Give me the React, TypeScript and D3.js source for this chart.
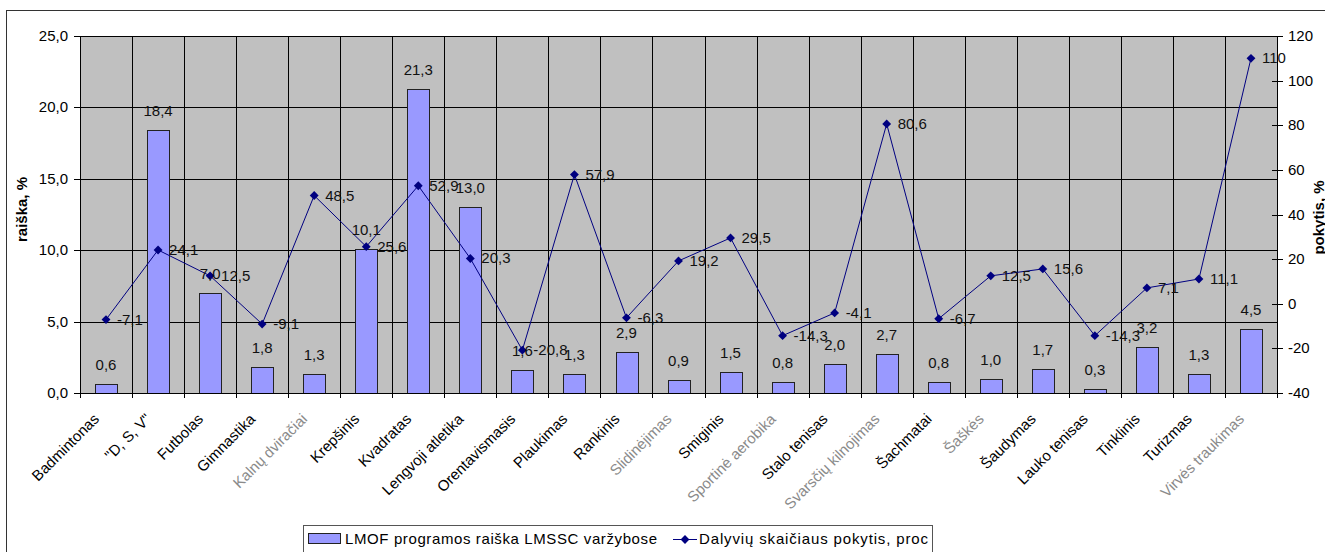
import React, { useEffect, useRef } from 'react';
import * as d3 from 'd3';

const categories = [
  'Badmintonas', '"D, S, V"', 'Futbolas', 'Gimnastika', 'Kalnų dviračiai', 'Krepšinis',
  'Kvadratas', 'Lengvoji atletika', 'Orentavismasis', 'Plaukimas', 'Rankinis', 'Slidinėjimas',
  'Smiginis', 'Sportinė aerobika', 'Stalo tenisas', 'Svarsčių kilnojimas', 'Šachmatai', 'Šaškės',
  'Šaudymas', 'Lauko tenisas', 'Tinklinis', 'Turizmas', 'Virvės traukimas',
];
// labels that look washed out in the picture
const faded = ['Kalnų dviračiai', 'Slidinėjimas', 'Sportinė aerobika', 'Svarsčių kilnojimas', 'Šaškės', 'Virvės traukimas'];

const raiska = [0.6, 18.4, 7.0, 1.8, 1.3, 10.1, 21.3, 13.0, 1.6, 1.3, 2.9, 0.9, 1.5, 0.8, 2.0, 2.7, 0.8, 1.0, 1.7, 0.3, 3.2, 1.3, 4.5];
const pokytis = [-7.1, 24.1, 12.5, -9.1, 48.5, 25.6, 52.9, 20.3, -20.8, 57.9, -6.3, 19.2, 29.5, -14.3, -4.1, 80.6, -6.7, 12.5, 15.6, -14.3, 7.1, 11.1, 110];

const leftTicks = [0, 5, 10, 15, 20, 25];
const rightTicks = [-40, -20, 0, 20, 40, 60, 80, 100, 120];

const barName = 'LMOF programos raiška LMSSC varžybose';
const lineName = 'Dalyvių skaičiaus pokytis, proc';

const FONT = 'Arial, "Liberation Sans", sans-serif';

const App = () => {
  const ref = useRef(null);

  useEffect(() => {
    const svg = d3.select(ref.current);
    svg.selectAll('*').remove();

    const left = 80, right = 1277, top = 36, bottom = 393;

    const x = d3.scaleBand().domain(categories).range([left, right]);
    const yL = d3.scaleLinear().domain([0, 25]).range([bottom, top]);
    const yR = d3.scaleLinear().domain([-40, 120]).range([bottom, top]);
    const comma = (s) => s.replace('.', ',');
    const fmtBar = (v) => comma(d3.format('.1f')(v));
    const fmtLine = (v) => comma(String(v));

    // outer frame
    svg.append('rect')
      .attr('x', 6.5).attr('y', 10.5)
      .attr('width', 1330).attr('height', 560)
      .attr('fill', 'white').attr('stroke', '#333');

    // plot area
    svg.append('rect')
      .attr('x', left).attr('y', top)
      .attr('width', right - left).attr('height', bottom - top)
      .attr('fill', '#C0C0C0');

    // horizontal grid
    svg.append('g').selectAll('line')
      .data(leftTicks.slice(1))
      .enter().append('line')
      .attr('x1', left).attr('x2', right)
      .attr('y1', d => Math.round(yL(d)) + 0.5).attr('y2', d => Math.round(yL(d)) + 0.5)
      .attr('stroke', '#000');

    // vertical grid + x ticks
    const bounds = categories.map((c) => x(c)).concat([right]);
    svg.append('g').selectAll('line')
      .data(bounds.slice(1, -1))
      .enter().append('line')
      .attr('x1', d => Math.round(d) + 0.5).attr('x2', d => Math.round(d) + 0.5)
      .attr('y1', top).attr('y2', bottom + 5)
      .attr('stroke', '#000');

    // bars
    const bw = x.bandwidth() * 0.42;
    svg.append('g').selectAll('rect')
      .data(raiska)
      .enter().append('rect')
      .attr('x', (d, i) => Math.round(x(categories[i]) + x.bandwidth() / 2 - bw / 2) + 0.5)
      .attr('y', d => Math.round(yL(d)) + 0.5)
      .attr('width', Math.round(bw))
      .attr('height', d => bottom - Math.round(yL(d)))
      .attr('fill', '#9999FF')
      .attr('stroke', '#222');

    // axes lines
    svg.append('line').attr('x1', left + 0.5).attr('x2', left + 0.5).attr('y1', top).attr('y2', bottom).attr('stroke', '#000');
    svg.append('line').attr('x1', right + 0.5).attr('x2', right + 0.5).attr('y1', top).attr('y2', bottom).attr('stroke', '#000');
    svg.append('line').attr('x1', left).attr('x2', right).attr('y1', bottom + 0.5).attr('y2', bottom + 0.5).attr('stroke', '#000');
    svg.append('line').attr('x1', left + 0.5).attr('x2', left + 0.5).attr('y1', bottom).attr('y2', bottom + 5).attr('stroke', '#000');
    svg.append('line').attr('x1', right + 0.5).attr('x2', right + 0.5).attr('y1', bottom).attr('y2', bottom + 5).attr('stroke', '#000');

    // left ticks
    const gl = svg.append('g');
    gl.selectAll('line').data(leftTicks).enter().append('line')
      .attr('x1', left - 6).attr('x2', left)
      .attr('y1', d => Math.round(yL(d)) + 0.5).attr('y2', d => Math.round(yL(d)) + 0.5)
      .attr('stroke', '#000');
    gl.selectAll('text').data(leftTicks).enter().append('text')
      .attr('x', left - 12).attr('y', d => yL(d) + 5)
      .attr('text-anchor', 'end')
      .style('font', `15px ${FONT}`)
      .text(d => fmtBar(d));

    // right ticks
    const gr = svg.append('g');
    gr.selectAll('line').data(rightTicks).enter().append('line')
      .attr('x1', right - 5).attr('x2', right + 6)
      .attr('y1', d => Math.round(yR(d)) + 0.5).attr('y2', d => Math.round(yR(d)) + 0.5)
      .attr('stroke', '#000');
    gr.selectAll('text').data(rightTicks).enter().append('text')
      .attr('x', right + 11).attr('y', d => yR(d) + 5)
      .style('font', `15px ${FONT}`)
      .text(d => String(d));

    // axis titles
    svg.append('text')
      .attr('transform', `translate(27,${(top + bottom) / 2 - 5}) rotate(-90)`)
      .attr('text-anchor', 'middle')
      .style('font', `bold 15px ${FONT}`)
      .text('raiška, %');
    svg.append('text')
      .attr('transform', `translate(1324,${(top + bottom) / 2 + 3}) rotate(-90)`)
      .attr('text-anchor', 'middle')
      .style('font', `bold 15px ${FONT}`)
      .text('pokytis, %');

    // category labels
    svg.append('g').selectAll('text')
      .data(categories)
      .enter().append('text')
      .attr('transform', d => `translate(${x(d) + x.bandwidth() / 2 - 6},420) rotate(-45)`)
      .attr('text-anchor', 'end')
      .style('font', `15px ${FONT}`)
      .attr('fill', d => (faded.includes(d) ? '#8a8a8a' : '#000'))
      .text(d => d);

    // line series
    const cx = (i) => x(categories[i]) + x.bandwidth() / 2;
    const line = d3.line().x((d, i) => cx(i)).y(d => yR(d));
    svg.append('path')
      .datum(pokytis)
      .attr('d', line)
      .attr('fill', 'none')
      .attr('stroke', '#000080')
      .attr('stroke-width', 1);
    const diamond = d3.symbol().type(d3.symbolDiamond2).size(50);
    svg.append('g').selectAll('path')
      .data(pokytis)
      .enter().append('path')
      .attr('d', diamond)
      .attr('transform', (d, i) => `translate(${cx(i)},${yR(d)})`)
      .attr('fill', '#000080');

    // bar labels
    svg.append('g').selectAll('text')
      .data(raiska)
      .enter().append('text')
      .attr('x', (d, i) => cx(i))
      .attr('y', d => yL(d) - 14)
      .attr('text-anchor', 'middle')
      .style('font', `15px ${FONT}`)
      .attr('fill', '#111')
      .text(d => fmtBar(d));

    // line labels
    svg.append('g').selectAll('text')
      .data(pokytis)
      .enter().append('text')
      .attr('x', (d, i) => cx(i) + 11)
      .attr('y', d => yR(d) + 5)
      .style('font', `15px ${FONT}`)
      .attr('fill', '#111')
      .text(d => fmtLine(d));

    // legend
    const lg = svg.append('g');
    lg.append('rect')
      .attr('x', 303.5).attr('y', 525.5)
      .attr('width', 629).attr('height', 40)
      .attr('fill', 'white').attr('stroke', '#555');
    lg.append('rect')
      .attr('x', 308.5).attr('y', 533.5)
      .attr('width', 32).attr('height', 10)
      .attr('fill', '#9999FF').attr('stroke', '#222');
    lg.append('text')
      .attr('x', 345).attr('y', 544)
      .attr('textLength', 312).attr('lengthAdjust', 'spacing')
      .style('font', `15px ${FONT}`)
      .text(barName);
    lg.append('line')
      .attr('x1', 673).attr('x2', 697).attr('y1', 539.5).attr('y2', 539.5)
      .attr('stroke', '#000080');
    lg.append('path')
      .attr('d', diamond)
      .attr('transform', 'translate(685,539.5)')
      .attr('fill', '#000080');
    lg.append('text')
      .attr('x', 699).attr('y', 544)
      .attr('textLength', 229).attr('lengthAdjust', 'spacing')
      .style('font', `15px ${FONT}`)
      .text(lineName);
  }, []);

  return (
    <svg ref={ref} width={1325} height={552}
      style={{ position: 'absolute', left: 0, top: 0, display: 'block', background: 'white' }} />
  );
};

export default App;
